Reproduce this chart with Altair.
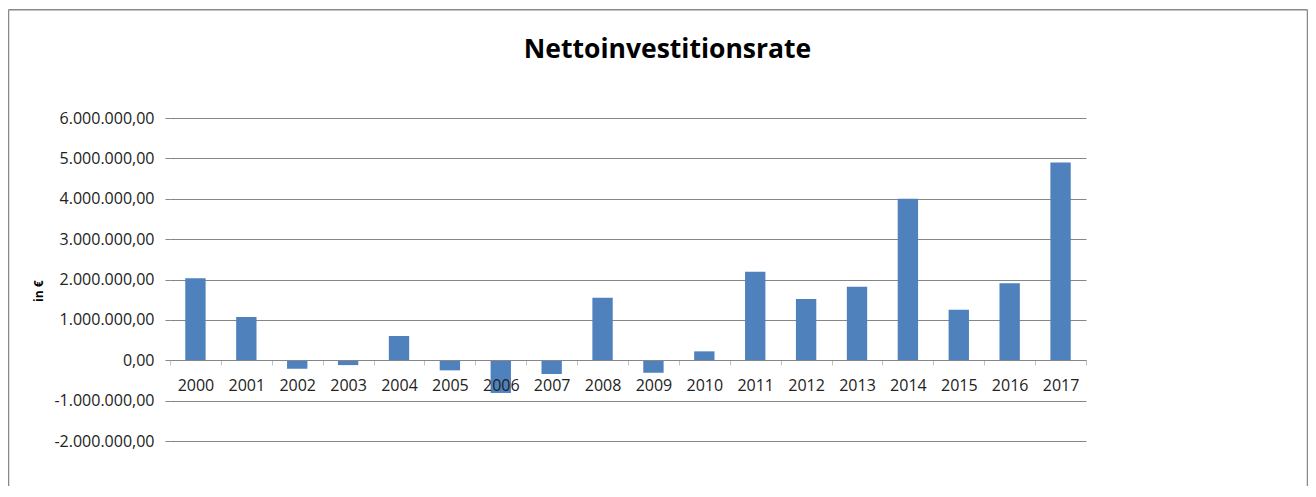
import altair as alt
import pandas as pd

years = [str(y) for y in range(2000, 2018)]
values = [2030000, 1070000, -210000, -120000, 600000, -250000, -810000, -340000,
          1550000, -310000, 220000, 2190000, 1520000, 1820000, 4000000, 1250000,
          1910000, 4900000]
y_ticks = [-2000000, -1000000, 0, 1000000, 2000000, 3000000, 4000000, 5000000, 6000000]
title_text = "Nettoinvestitionsrate"

df = pd.DataFrame({"Jahr": years, "Wert": values})

FONT = "Open Sans"
GRID = "#868686"

label_expr = ("(datum.value < 0 ? '-' : '') + "
              "replace(replace(replace(format(abs(datum.value), ',.2f'), "
              "regexp(',', 'g'), '_'), regexp('[.]', 'g'), ','), regexp('_', 'g'), '.')")

W, H = 916, 323

bars = alt.Chart(df).mark_bar(color="#4f81bd", width=alt.RelativeBandSize(0.4)).encode(
    x=alt.X("Jahr:N", sort=years,
            scale=alt.Scale(paddingInner=0, paddingOuter=0),
            axis=alt.Axis(title=None, orient="bottom", offset=-81, labelAngle=0,
                          labelFont=FONT, labelFontSize=16, labelColor="#222222",
                          labelPadding=12, labelBaseline="top",
                          tickBand="extent", tickSize=5, tickColor="#c0c0c0",
                          domainColor=GRID, domainWidth=1, grid=False, zindex=1)),
    y=alt.Y("Wert:Q",
            scale=alt.Scale(domain=[-2000000, 6000000], nice=False, zero=False),
            axis=alt.Axis(values=y_ticks, title="in €", labelExpr=label_expr,
                          labelFont=FONT, labelFontSize=16, labelColor="#222222",
                          labelPadding=11, tickSize=5, tickColor=GRID,
                          domain=False, grid=True, gridColor=GRID, gridWidth=1,
                          titleFont=FONT, titleFontSize=12, titleFontWeight="bold",
                          titleColor="#000000", titleAngle=-90,
                          titleX=-131.5, titleY=172.7,
                          titleAlign="center", titleBaseline="middle")),
)

one = pd.DataFrame({"t": [title_text]})
title = alt.Chart(one).mark_text(font=FONT, fontSize=26.5, fontWeight="bold",
                                 color="#000000", align="center",
                                 baseline="alphabetic").encode(
    text="t:N", x=alt.value(497.5), y=alt.value(-60))

frame_df = pd.DataFrame({"k": [0]})
left = alt.Chart(frame_df).mark_rule(color="#888888", strokeWidth=1.5).encode(
    x=alt.value(-161.5), y=alt.value(-108.3), y2=alt.value(H + 60))
top = alt.Chart(frame_df).mark_rule(color="#888888", strokeWidth=1.5).encode(
    x=alt.value(-161.5), x2=alt.value(1137.5), y=alt.value(-108.3))
right = alt.Chart(frame_df).mark_rule(color="#888888", strokeWidth=1.5).encode(
    x=alt.value(1137.5), y=alt.value(-108.3), y2=alt.value(H + 60))

chart = alt.layer(bars, title, left, top, right).properties(
    width=W, height=H,
    autosize=alt.AutoSizeParams(type="none"),
    padding={"left": 162, "top": 110, "right": 222, "bottom": 45},
).configure(background="white", view=alt.ViewConfig(stroke=None))

chart.save("out.html", embed_options={"renderer": "svg", "actions": False})
